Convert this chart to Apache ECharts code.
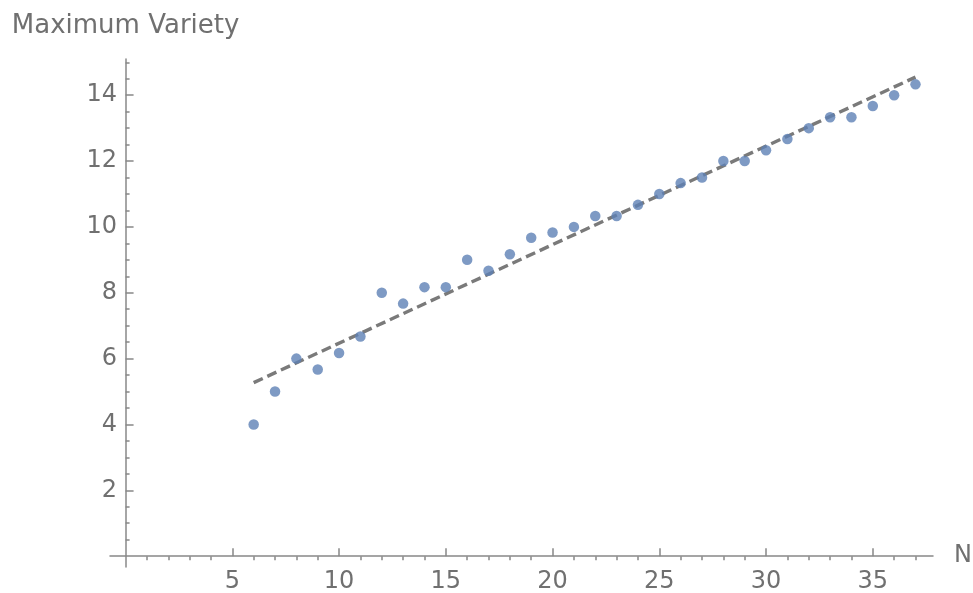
<!DOCTYPE html>
<html>
<head>
<meta charset="utf-8">
<script src="https://cdn.jsdelivr.net/npm/echarts@6/dist/echarts.min.js"></script>
<style>html,body{margin:0;padding:0;background:#fff}#c{width:973px;height:593px}</style>
</head>
<body>
<div id="c"></div>
<script>
const nValues = [6,7,8,9,10,11,12,13,14,15,16,17,18,19,20,21,22,23,24,25,26,27,28,29,30,31,32,33,34,35,36,37];
const maxVariety = [4,5,6,5.67,6.17,6.67,8,7.67,8.17,8.17,9,8.67,9.17,9.67,9.83,10,10.33,10.33,10.67,11,11.33,11.5,12,12,12.33,12.67,13,13.33,13.33,13.67,14,14.33];
const fitN = [6,37];
const fitValues = [5.27,14.55];
const xLabelValues = [5,10,15,20,25,30,35];
const xMinorValues = [1,2,3,4,6,7,8,9,11,12,13,14,16,17,18,19,21,22,23,24,26,27,28,29,31,32,33,34,36,37];
const yLabelValues = [2,4,6,8,10,12,14];
const yMinorValues = [0.5,1,1.5,2.5,3,3.5,4.5,5,5.5,6.5,7,7.5,8.5,9,9.5,10.5,11,11.5,12.5,13,13.5,14.5,15];

const axisColor = '#888888';
const textColor = '#707070';
const font = 'DejaVu Sans';

const chart = echarts.init(document.getElementById('c'), null, {renderer:'canvas'});
const xBase = {type:'value', min:-0.73, max:37.82, splitLine:{show:false}};
const yBase = {type:'value', min:-0.33, max:15.1, splitLine:{show:false}};
chart.setOption({
  animation:false,
  backgroundColor:'#fff',
  grid:{left:110, right:40, top:59, bottom:26, containLabel:false, outerBoundsMode:'none'},
  xAxis:[
    Object.assign({}, xBase, {
      name:'N', nameLocation:'end', nameGap:21,
      nameTextStyle:{color:textColor, fontFamily:font, fontSize:24, verticalAlign:'middle', padding:[4,0,0,0]},
      axisLine:{onZero:true, lineStyle:{color:axisColor, width:1.5}},
      axisTick:{show:true, inside:true, length:8, customValues:xLabelValues, lineStyle:{color:axisColor, width:1.5}},
      axisLabel:{customValues:xLabelValues, color:textColor, fontFamily:font, fontSize:24, margin:3}
    }),
    Object.assign({}, xBase, {
      axisLine:{show:false, onZero:true},
      axisTick:{show:true, inside:true, length:4, customValues:xMinorValues, lineStyle:{color:axisColor, width:1.5}},
      axisLabel:{show:false}
    })
  ],
  yAxis:[
    Object.assign({}, yBase, {
      name:'Maximum Variety', nameLocation:'end', nameGap:20,
      nameTextStyle:{color:textColor, fontFamily:font, fontSize:26, align:'center'},
      axisLine:{onZero:true, lineStyle:{color:axisColor, width:1.5}},
      axisTick:{show:true, inside:true, length:8, customValues:yLabelValues, lineStyle:{color:axisColor, width:1.5}},
      axisLabel:{customValues:yLabelValues, color:textColor, fontFamily:font, fontSize:24, margin:-7}
    }),
    Object.assign({}, yBase, {
      position:'left',
      axisLine:{show:false, onZero:true},
      axisTick:{show:true, inside:true, length:4, customValues:yMinorValues, lineStyle:{color:axisColor, width:1.5}},
      axisLabel:{show:false}
    })
  ],
  series:[
    {
      type:'line', xAxisIndex:0, yAxisIndex:0,
      data:fitN.map((n,i)=>[n, fitValues[i]]),
      showSymbol:false, symbol:'none',
      lineStyle:{color:'#7a7a7a', width:3.4, type:[10,5]},
      z:2
    },
    {
      type:'scatter', xAxisIndex:0, yAxisIndex:0,
      data:nValues.map((n,i)=>[n, maxVariety[i]]),
      symbol:'circle', symbolSize:10.5,
      itemStyle:{color:'#5E81B5'},
      z:3
    }
  ]
});
</script>
</body>
</html>
